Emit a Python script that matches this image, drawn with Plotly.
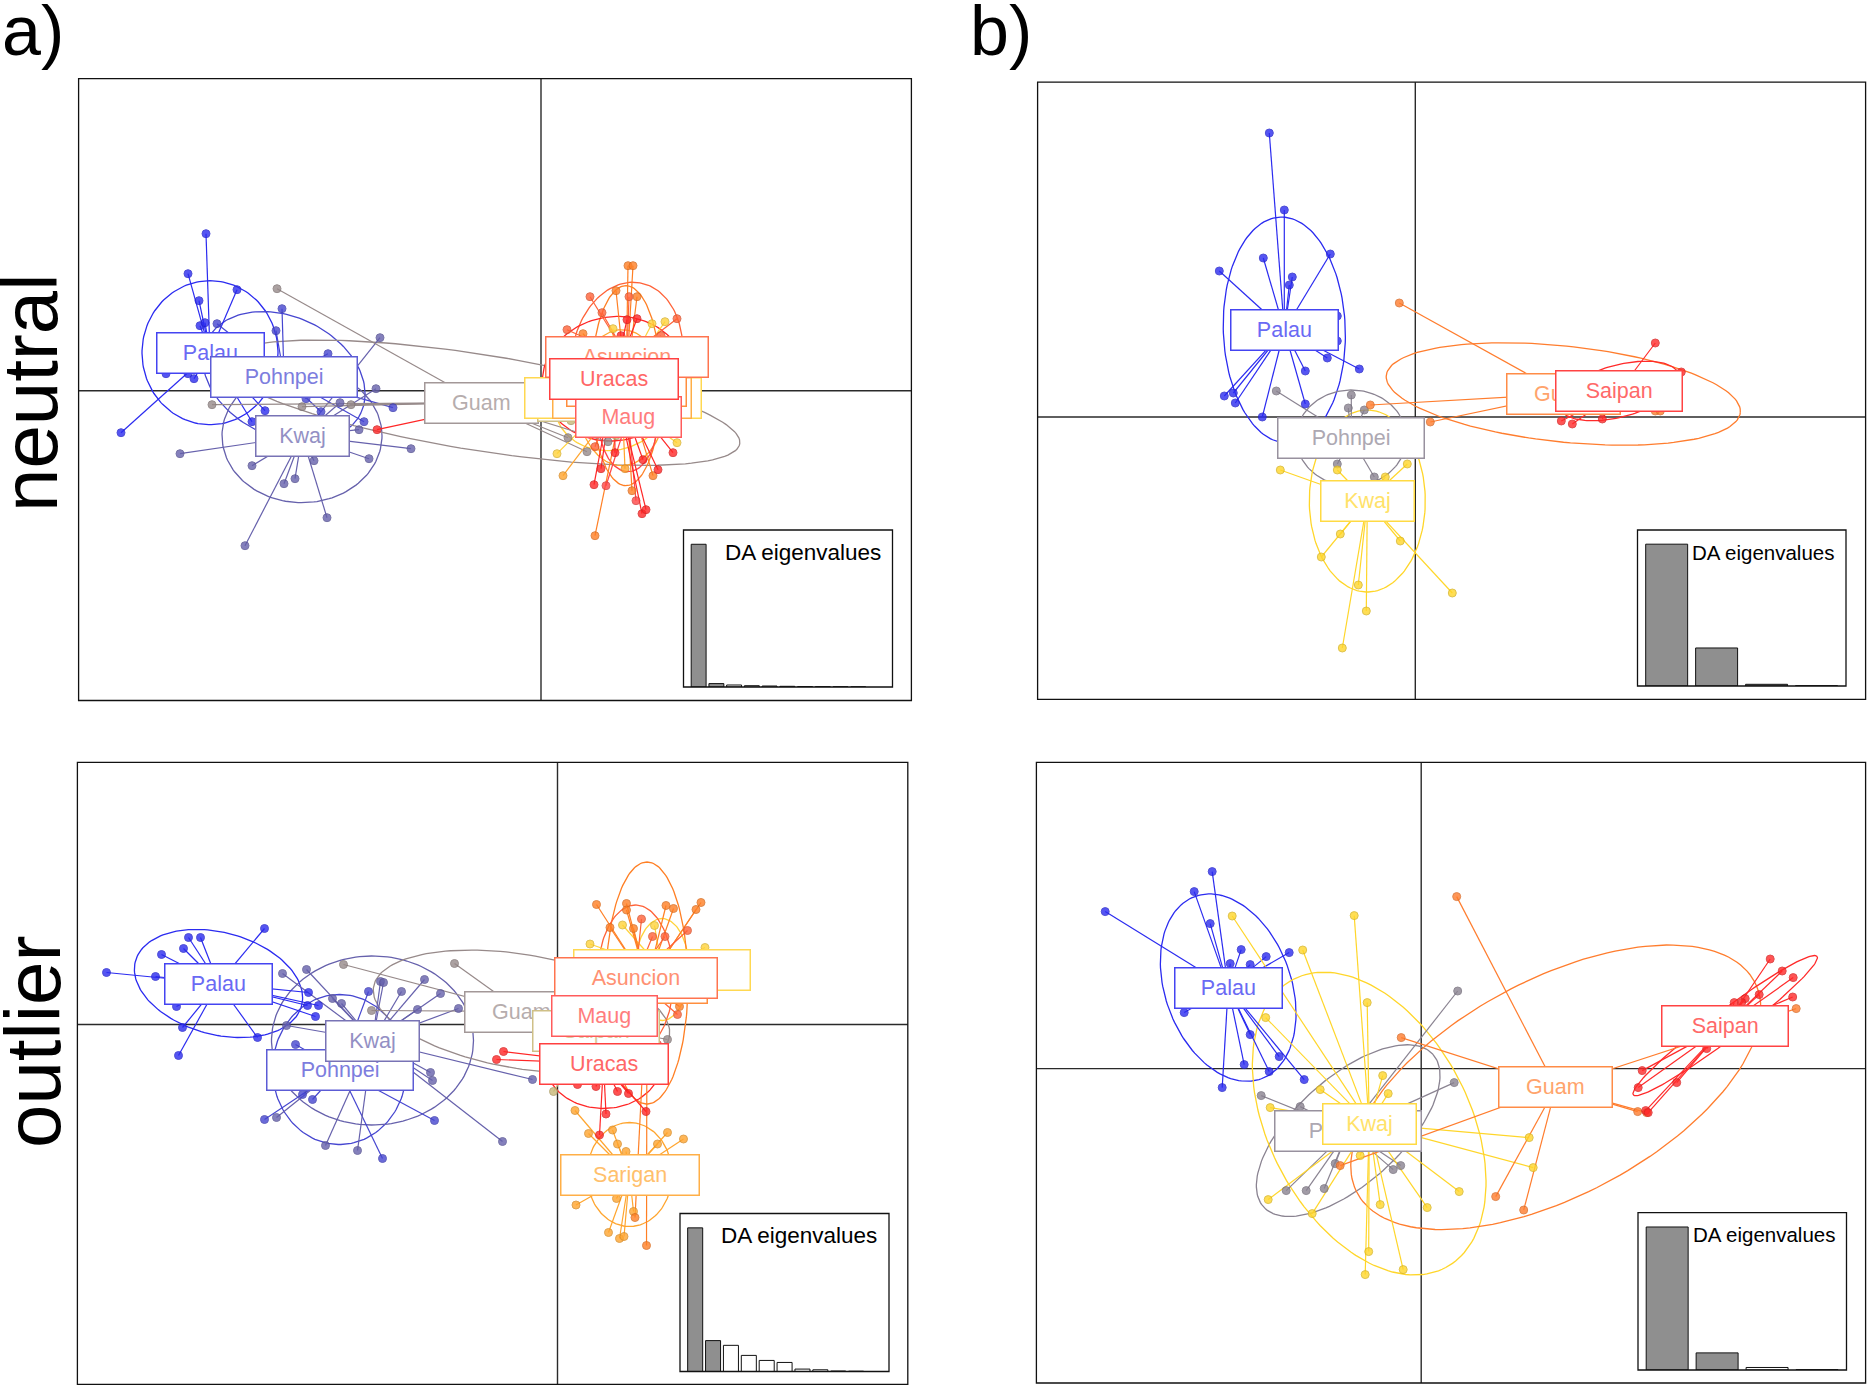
import numpy as np
import plotly.graph_objects as go

FONT = "Liberation Sans, Arial, Helvetica, sans-serif"
W, H = 1868, 1387

# ------------------------------------------------------------------ DATA
A_POPS = ["Palau", "Pohnpei", "Kwaj", "Guam", "Saipan", "Alamagan", "Sarigan",
          "Pagan", "Asuncion", "Maug", "Uracas"]
A_COLORS = ["#2b2bf0", "#4646d0", "#6661ac", "#978a8a", "#c9b877", "#ffd33a",
            "#ffa52e", "#ff7f24", "#ff6238", "#ff4646", "#ff2626"]
B_POPS = ["Palau", "Pohnpei", "Kwaj", "Guam", "Saipan"]
B_COLORS = ["#2b2bf0", "#8a8391", "#ffd62a", "#ff7d2e", "#ff2a2a"]

# a) neutral : group centroids (LD1, LD2) and ellipse (semi-axis 1, semi-axis 2, angle)
AN_CX = [-331, -257, -239, -60, 60, 72, 81, 85, 86, 87, 73]
AN_CY = [38, 14, -45, -12, -10, -7, -7, 5, 34, -26, 12]
AN_EA = [72, 85, 80, 262, 35, 60, 45, 100, 75, 55, 72]
AN_EB = [68, 60, 67, 48, 28, 52, 68, 35, 55, 30, 62]
AN_ANG = [90, -25, 0, -9, 0, 20, 0, 90, 80, 90, 10]
AN_POINTS = {
    "Palau": [(-335, 157), (-353, 117), (-342, 90), (-304, 101), (-341, 65), (-336, 68), (-375, 17),
              (-353, 17), (-347, 12), (-420, -42), (-276, -20), (-289, -31), (-310, 45), (-365, 35)],
    "Pohnpei": [(-324, 67), (-259, 82), (-265, 60), (-213, 37), (-177, -31), (-148, -17), (-220, -21),
                (-235, -8), (-280, 2), (-200, 8)],
    "Kwaj": [(-361, -63), (-289, -75), (-257, -93), (-246, -88), (-296, -155), (-214, -127), (-227, -70),
             (-172, -68), (-130, -58), (-161, 53), (-201, -12), (-182, -39), (-165, 2)],
    "Guam": [(-264, 102), (-329, -14), (-239, -16), (-190, -14), (27, -47), (46, -61), (67, -51)],
    "Saipan": [(30, -30), (75, -45)],
    "Alamagan": [(111, 67), (124, 69), (72, 62), (16, -63), (136, -52), (40, 30), (100, 40), (60, -20)],
    "Sarigan": [(22, -85), (84, -78), (30, 40), (130, -30), (100, 50), (70, 30)],
    "Pagan": [(87, 125), (92, 125), (96, 94), (54, -145), (91, -100), (112, -85), (42, 57), (75, 100)],
    "Asuncion": [(49, 94), (136, 72), (26, 61), (88, 94), (61, 78), (54, -56), (110, 20), (120, 55)],
    "Maug": [(40, -40), (110, -40), (95, -110), (70, -20), (120, 10), (65, -95)],
    "Uracas": [(86, 71), (96, 72), (60, -78), (53, -94), (74, -62), (102, -69), (117, -79), (132, -62),
               (101, -123), (105, -119), (-164, -39), (80, 55)],
}
AN_EIGEN = [142.7, 3.4, 2.0, 1.3, 1.0, 0.7, 0.45, 0.3, 0.2, 0.1]

# a) outlier
AO_CX = [-339, -218, -185, -36, 38, 104.5, 72, 89.5, 78, 47, 46]
AO_CY = [41, -45, -16, 13, -6, 55, -150, 41.5, 46.5, 9, -39]
AO_EA = [86, 75, 101, 150, 40, 51, 52, 121, 73, 40, 57.5]
AO_EB = [51, 67, 84.5, 57, 30, 27, 42.5, 41, 38, 30, 45]
AO_ANG = [-15, 90, 0, -9.5, 0, 90, 90, 90, 90, 0, 0]
AO_POINTS = {
    "Palau": [(-451, 52), (-402, 48), (-396, 70), (-374, 76), (-369, 87), (-357, 87), (-293, 96), (-381, 18),
              (-375, -3), (-379, -31), (-300, -13), (-249, 32), (-239, 19), (-242, 8), (-250, 19)],
    "Pohnpei": [(-189, 33), (-293, -95), (-245, -75), (-175, -134), (-123, -96), (-230, -30), (-205, -5),
                (-262, -20), (-255, -70)],
    "Kwaj": [(-275, 51), (-251, 55), (-271, -1), (-225, 26), (-216, 21), (-177, 43), (-174, 42), (-156, 33),
             (-133, 45), (-117, 31), (-140, 15), (-99, 16), (-127, -48), (-125, -56), (-55, -117),
             (-281, -93), (-232, -121), (-200, -126), (-25, -55)],
    "Guam": [(-214, 60), (-103, 61), (-186, 14), (110, -15), (60, 40)],
    "Saipan": [(-4, -67), (70, -30), (20, 20)],
    "Alamagan": [(32.5, 80.5), (65, 99.5), (97, 99), (147.5, 77), (125, 40), (90, 20)],
    "Sarigan": [(17.5, -86), (31, -109), (55, -105.5), (60, -119.5), (68.5, -127), (100, -119.5),
                (110, -108), (126, -114.5), (18.5, -180.5), (51, -208), (62, -214), (66.5, -212),
                (59, -174), (76, -187)],
    "Pagan": [(39, 120), (69, 121), (69, 114.5), (108.5, 119), (116, 116), (143.5, 122), (138.5, 115),
              (52.5, 97), (76, 96), (89, -221), (122, 18), (77.5, -193)],
    "Asuncion": [(84, 105.5), (130, 94), (95, 88), (107.5, 88), (60, 70), (40, 20), (120, 10)],
    "Maug": [(20, 40), (80, 60), (100, -20), (30, -25)],
    "Uracas": [(-54, -27), (-61, -35), (38.5, -62), (48.5, -89.5), (42, -110.5), (60, -67), (71, -69),
               (88.5, -87), (20, -60), (90, -40)],
}
AO_EIGEN = [142.7, 30.7, 26, 16, 11, 9, 2.4, 1.7, 0.5, 0.3]

# b) neutral
BN_CX = [-131, -64, -48, 148, 204]
BN_CY = [87, -21, -84, 23, 26]
BN_EA = [113, 55, 91, 178, 62]
BN_EB = [61, 48, 58, 48, 26]
BN_ANG = [92, 0, 90, -6, 15]
BN_POINTS = {
    "Palau": [(-146, 284), (-131, 207), (-152, 159), (-196, 146), (-85, 163), (-123, 140), (-126, 132),
              (-78, 101), (-78, 76), (-88, 59), (-56, 48), (-110, 46), (-191, 21), (-182, 24), (-180, 14),
              (-153, 0), (-110, 13)],
    "Pohnpei": [(-139, 26), (-64, 22), (-67, 9), (-51, 7), (-78, -47), (-41, -60), (-30, -20), (-95, -30)],
    "Kwaj": [(-135, -53), (-94, -140), (-75, -117), (-57, -168), (-49, -194), (-73, -231), (-15, -124),
             (37, -176), (-78, -53), (-8, -47), (-30, -60), (-60, -70)],
    "Guam": [(-16, 114), (15, -5), (-45, 12), (240, 6), (245, 6)],
    "Saipan": [(240, 74), (266, 45), (146, -4), (157, -7), (187, -2), (220, 40), (190, 10)],
}
BN_EIGEN = [141.7, 38, 1.7, 0.3]

# b) outlier
BO_CX = [-193, -73, -52, 134.6, 304]
BO_CY = [81, -62, -55, -18.7, 43]
BO_EA = [97, 114, 163, 225, 115]
BO_EB = [63, 53, 100, 108, 14]
BO_ANG = [-70, 42, -62, 28, 37]
BO_POINTS = {
    "Palau": [(-316, 157), (-209, 197), (-227, 177), (-211, 145), (-180, 119), (-155, 112), (-132, 116),
              (-191, 105), (-171, 104), (-237, 56), (-171, 34), (-142, 12), (-177, 4), (-152, -3),
              (-117, -11), (-199, -19)],
    "Pohnpei": [(36.5, 77.6), (33, -14), (-160, -27), (-121, -38), (-86, -95), (-135, -122), (-115, -122),
                (-97, -120), (-28, -101), (-20.5, -97)],
    "Kwaj": [(-189, 152.6), (-67, 153), (-118.5, 118.6), (-54, 66), (-155.5, 51), (-38.5, -7), (-33, -25),
             (-101, -21), (-151, -39), (-153, -131), (-109, -145), (-61, -87), (-41, -136), (-52.5, -183),
             (-56, -206), (-18, -201), (6, -139), (38, -123), (108, -69), (112, -99)],
    "Guam": [(35.5, 172), (74.5, -128), (102.5, -141.4), (-20, 31), (-81, -97), (216.5, -43), (225.5, -44),
             (375, 60)],
    "Saipan": [(349, 109.6), (361, 97.6), (372, 91), (371.5, 71.6), (338, 74), (324, 70), (313, 66),
               (320.5, 66), (221, -2), (217, -19), (255.5, -14), (224.5, -42), (227, -44), (285.5, 20)],
}
BO_EIGEN = [142, 17, 2.5, 0.3]

# ------------------------------------------------------------------ LAYOUT (page pixels)
PANELS = [
    dict(box=(78.6, 78.6, 911.4, 700.5), origin=(541, 390.7), inset=(683.5, 530, 892.5, 687),
         irange=(0.146, 11.93), pops=A_POPS, cols=A_COLORS, cx=AN_CX, cy=AN_CY, ea=AN_EA, eb=AN_EB,
         ang=AN_ANG, pts=AN_POINTS, eig=AN_EIGEN, nsel=2, efont=22.5),
    dict(box=(1037.6, 82.2, 1865.6, 699.3), origin=(1415.3, 417), inset=(1637.5, 530, 1846, 686),
         irange=(0.416, 4.59), pops=B_POPS, cols=B_COLORS, cx=BN_CX, cy=BN_CY, ea=BN_EA, eb=BN_EB,
         ang=BN_ANG, pts=BN_POINTS, eig=BN_EIGEN, nsel=3, efont=20.5),
    dict(box=(77.4, 762.4, 907.8, 1384.3), origin=(557.5, 1024.5), inset=(680, 1213.5, 889, 1371.5),
         irange=(0.151, 11.84), pops=A_POPS, cols=A_COLORS, cx=AO_CX, cy=AO_CY, ea=AO_EA, eb=AO_EB,
         ang=AO_ANG, pts=AO_POINTS, eig=AO_EIGEN, nsel=2, efont=22.5),
    dict(box=(1036.4, 762.4, 1865.6, 1383), origin=(1421.2, 1068.6), inset=(1638, 1212.7, 1846.5, 1370),
         irange=(0.416, 4.59), pops=B_POPS, cols=B_COLORS, cx=BO_CX, cy=BO_CY, ea=BO_EA, eb=BO_EB,
         ang=BO_ANG, pts=BO_POINTS, eig=BO_EIGEN, nsel=2, efont=20.5),
]

ARIAL_W = {"P": .667, "a": .556, "l": .222, "u": .556, "o": .556, "h": .556, "n": .556, "p": .556,
           "e": .556, "i": .222, "K": .667, "w": .722, "j": .222, "G": .778, "m": .833, "S": .667,
           "r": .333, "g": .556, "A": .667, "s": .5, "c": .5, "M": .833, "U": .722}
LABEL_FS = 21.5


def text_w(s, fs):
    return sum(ARIAL_W.get(c, .556) for c in s) * fs


def hex_rgb(h):
    h = h.lstrip("#")
    return tuple(int(h[i:i + 2], 16) for i in (0, 2, 4))


def lighten(h, f):
    r, g, b = hex_rgb(h)
    return "rgb(%d,%d,%d)" % (r + (255 - r) * f, g + (255 - g) * f, b + (255 - b) * f)


def darken(h, f):
    r, g, b = hex_rgb(h)
    return "rgb(%d,%d,%d)" % (r * (1 - f), g * (1 - f), b * (1 - f))


def ellipse_xy(cx, cy, a, b, ang, n=160):
    t = np.linspace(0, 2 * np.pi, n)
    th = np.deg2rad(ang)
    x = cx + a * np.cos(t) * np.cos(th) - b * np.sin(t) * np.sin(th)
    y = cy + a * np.cos(t) * np.sin(th) + b * np.sin(t) * np.cos(th)
    return x, y


fig = go.Figure()
annotations = []
shapes = []
layout_axes = {}


def dom_x(l, r):
    return [l / W, r / W]


def dom_y(t, b):
    return [1 - b / H, 1 - t / H]


for k, P in enumerate(PANELS):
    mi = 2 * k + 1
    ii = 2 * k + 2
    xa = "x" if mi == 1 else "x%d" % mi
    ya = "y" if mi == 1 else "y%d" % mi
    xi, yi = "x%d" % ii, "y%d" % ii
    l, t, r, b = P["box"]
    ox, oy = P["origin"]
    layout_axes["xaxis" if mi == 1 else "xaxis%d" % mi] = dict(
        domain=dom_x(l, r), range=[l - ox, r - ox], visible=False, anchor=ya, fixedrange=True)
    layout_axes["yaxis" if mi == 1 else "yaxis%d" % mi] = dict(
        domain=dom_y(t, b), range=[oy - b, oy - t], visible=False, anchor=xa, fixedrange=True)

    shapes.append(dict(type="line", xref=xa, yref=ya + " domain", x0=0, x1=0, y0=0, y1=1,
                       line=dict(color="#2a2a2a", width=1.4), layer="below"))
    shapes.append(dict(type="line", xref=xa + " domain", yref=ya, x0=0, x1=1, y0=0, y1=0,
                       line=dict(color="#2a2a2a", width=1.4), layer="below"))
    shapes.append(dict(type="rect", xref=xa + " domain", yref=ya + " domain", x0=0, x1=1, y0=0, y1=1,
                       line=dict(color="#111111", width=1.3), layer="above"))

    pops, cols = P["pops"], P["cols"]
    for i, p in enumerate(pops):
        ex, ey = ellipse_xy(P["cx"][i], P["cy"][i], P["ea"][i], P["eb"][i], P["ang"][i])
        fig.add_trace(go.Scatter(x=ex, y=ey, mode="lines", xaxis=xa, yaxis=ya, hoverinfo="skip",
                                 line=dict(color=cols[i], width=1.3)))
    for i, p in enumerate(pops):
        sx, sy = [], []
        for (px, py) in P["pts"][p]:
            sx += [P["cx"][i], px, None]
            sy += [P["cy"][i], py, None]
        fig.add_trace(go.Scatter(x=sx, y=sy, mode="lines", xaxis=xa, yaxis=ya, hoverinfo="skip",
                                 line=dict(color=cols[i], width=1.2)))
    for i, p in enumerate(pops):
        pts = P["pts"][p]
        fig.add_trace(go.Scatter(x=[q[0] for q in pts], y=[q[1] for q in pts], mode="markers",
                                 xaxis=xa, yaxis=ya, hoverinfo="skip",
                                 marker=dict(size=8, color=cols[i], opacity=0.8,
                                             line=dict(color=darken(cols[i], 0.15), width=1))))
    for i, p in enumerate(pops):
        bw = 1.65 * text_w(p, LABEL_FS) + 18
        annotations.append(dict(x=P["cx"][i], y=P["cy"][i], xref=xa, yref=ya, text=p, showarrow=False,
                                xanchor="center", yanchor="middle", width=bw - 3, height=39,
                                bgcolor="white", bordercolor=lighten(cols[i], 0.12), borderwidth=1.5,
                                borderpad=0, font=dict(family=FONT, size=LABEL_FS,
                                                       color=lighten(cols[i], 0.3))))

    # inset eigenvalue barplot
    il, it, ir, ib = P["inset"]
    eig = P["eig"]
    ymax = max(eig) * 1.1
    layout_axes["xaxis%d" % ii] = dict(domain=dom_x(il, ir), range=list(P["irange"]), visible=False,
                                       anchor=yi, fixedrange=True)
    layout_axes["yaxis%d" % ii] = dict(domain=dom_y(it, ib), range=[0, ymax], visible=False,
                                       anchor=xi, fixedrange=True)
    x0, x1 = P["irange"]
    fig.add_trace(go.Bar(x=[(x0 + x1) / 2], y=[ymax], width=[x1 - x0], xaxis=xi, yaxis=yi,
                         marker=dict(color="white", line=dict(color="white", width=0)), hoverinfo="skip"))
    nb = len(eig)
    fig.add_trace(go.Bar(x=list(range(1, nb + 1)), y=eig, width=0.84, xaxis=xi, yaxis=yi,
                         marker=dict(color=["#8f8f8f" if j < P["nsel"] else "white" for j in range(nb)],
                                     line=dict(color="#111111", width=1)), hoverinfo="skip"))
    shapes.append(dict(type="rect", xref=xi + " domain", yref=yi + " domain", x0=0, x1=1, y0=0, y1=1,
                       line=dict(color="#111111", width=1.3), layer="above"))
    annotations.append(dict(x=(ir - 10) / W, y=1 - (it + 22) / H, xref="paper", yref="paper",
                            text="DA eigenvalues", showarrow=False, xanchor="right", yanchor="middle",
                            font=dict(family=FONT, size=P["efont"], color="black")))

for txt, px, py in [("a)", 0, 31), ("b)", 968, 31)]:
    annotations.append(dict(x=px / W, y=1 - py / H, xref="paper", yref="paper", text=txt, showarrow=False,
                            xanchor="left", yanchor="middle", font=dict(family=FONT, size=70, color="black")))
for txt, px, py in [("neutral", 30, 393), ("outlier", 33, 1042)]:
    annotations.append(dict(x=px / W, y=1 - py / H, xref="paper", yref="paper", text=txt, showarrow=False,
                            textangle=-90, xanchor="center", yanchor="middle",
                            font=dict(family=FONT, size=78, color="black")))

fig.update_layout(width=W, height=H, margin=dict(l=0, r=0, t=0, b=0), paper_bgcolor="white",
                  plot_bgcolor="white", showlegend=False, annotations=annotations, shapes=shapes,
                  barmode="overlay", **layout_axes)
fig.write_html("out.html", config={"displayModeBar": False},
               post_script="document.body.style.margin='0px';document.body.style.padding='0px';"
                           "document.documentElement.style.overflow='hidden';")
